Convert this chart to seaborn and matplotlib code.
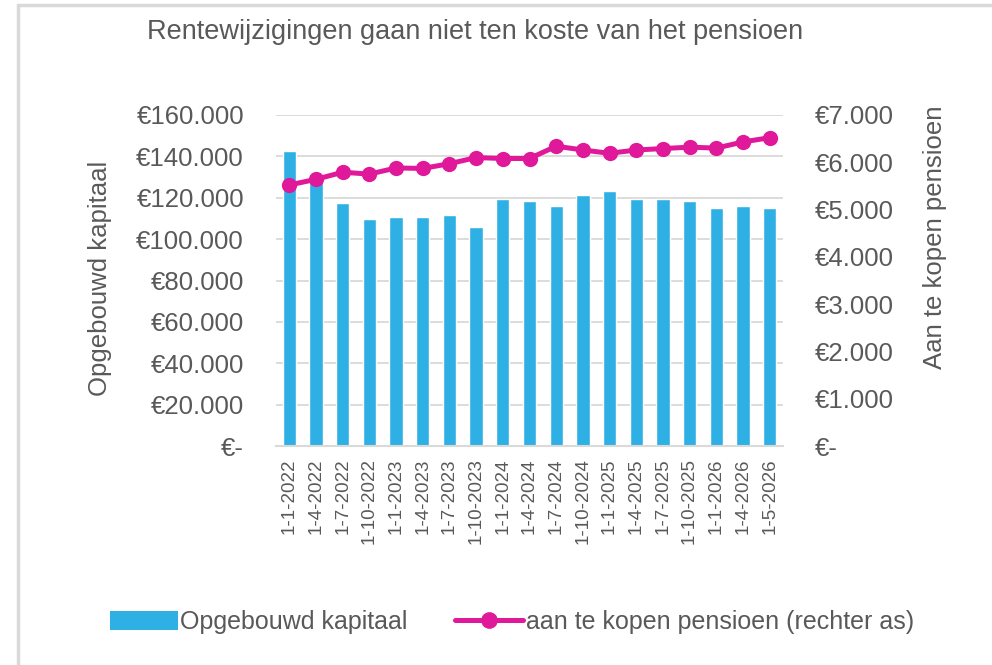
import matplotlib
matplotlib.use("Agg")
import matplotlib.pyplot as plt
import matplotlib.font_manager as fm
from matplotlib.lines import Line2D
from matplotlib.patches import Patch
from matplotlib.ticker import FuncFormatter, FixedLocator
import seaborn as sns
import numpy as np
import pandas as pd

datums = ["1-1-2022", "1-4-2022", "1-7-2022", "1-10-2022", "1-1-2023", "1-4-2023",
          "1-7-2023", "1-10-2023", "1-1-2024", "1-4-2024", "1-7-2024", "1-10-2024",
          "1-1-2025", "1-4-2025", "1-7-2025", "1-10-2025", "1-1-2026", "1-4-2026",
          "1-5-2026"]
kapitaal = [142700, 129000, 117700, 109900, 110700, 110700, 111500, 105800, 119300,
            118400, 116000, 121500, 123100, 119300, 119300, 118400, 115200, 116000,
            115200]
pensioen = [5520, 5640, 5790, 5750, 5880, 5870, 5970, 6100, 6080, 6080, 6340, 6260,
            6190, 6260, 6290, 6320, 6300, 6430, 6520]
left_ticks = [0, 20000, 40000, 60000, 80000, 100000, 120000, 140000, 160000]
right_ticks = [0, 1000, 2000, 3000, 4000, 5000, 6000, 7000]

sns.set_theme(style="white")
names = {f.name for f in fm.fontManager.ttflist}
fam = "Liberation Sans Narrow" if "Liberation Sans Narrow" in names else "Liberation Sans"
plt.rcParams["font.family"] = [fam, "DejaVu Sans"]

TXT = "#595959"
BLUE = "#2FB0E5"
PINK = "#E0199A"
GRID = "#D9D9D9"

df = pd.DataFrame({"datum": datums, "kapitaal": kapitaal, "pensioen": pensioen})

fig = plt.figure(figsize=(9.92, 6.65), dpi=100)
ax = fig.add_axes([276 / 992, 1 - 446 / 665, (783 - 276) / 992, (446 - 115) / 665])

sns.barplot(data=df, x="datum", y="kapitaal", color=BLUE, width=0.5, ax=ax,
            saturation=1, zorder=2)
ax.set_ylim(0, 160000)
ax.set_xlim(-0.5, len(datums) - 0.5)
ax.yaxis.set_major_locator(FixedLocator(left_ticks))


def euro(v, pos):
    if v == 0:
        return "€-"
    return "€" + f"{int(v):,}".replace(",", ".")


ax.yaxis.set_major_formatter(FuncFormatter(euro))
ax.grid(axis="y", color=GRID, linewidth=1.3, zorder=0)
ax.set_axisbelow(True)
for s in ["top", "right", "left"]:
    ax.spines[s].set_visible(False)
ax.spines["bottom"].set_color(GRID)
ax.spines["bottom"].set_linewidth(1.5)
ax.tick_params(axis="y", labelsize=18.5, colors=TXT, length=0, pad=23)
ax.tick_params(axis="x", labelsize=13.5, colors=TXT, length=0, pad=9, rotation=90)
ax.set_xlabel("")
ax.set_ylabel("Opgebouwd kapitaal", fontsize=18.5, color=TXT)
ax.yaxis.set_label_coords((112 - 276) / (783 - 276), (446 - 278) / (446 - 115))

ax2 = ax.twinx()
sns.lineplot(x=np.arange(len(datums)), y=pensioen, ax=ax2, color=PINK, linewidth=3.6,
             marker="o", markersize=11, markeredgewidth=0, zorder=3)
ax2.set_ylim(0, 7000)
ax2.yaxis.set_major_locator(FixedLocator(right_ticks))
ax2.yaxis.set_major_formatter(FuncFormatter(euro))
for s in ["top", "right", "left", "bottom"]:
    ax2.spines[s].set_visible(False)
ax2.tick_params(axis="y", labelsize=18.5, colors=TXT, length=0, pad=23)
ax2.set_ylabel("Aan te kopen pensioen", fontsize=18.5, color=TXT, rotation=90)
ax2.yaxis.set_label_coords((935 - 276) / (783 - 276), (446 - 237) / (446 - 115))
ax2.yaxis.label.set_verticalalignment("center")
ax2.yaxis.label.set_horizontalalignment("center")

fig.text(475 / 992, 1 - 32 / 665, "Rentewijzigingen gaan niet ten koste van het pensioen",
         ha="center", va="center", fontsize=19.5, color=TXT)

handles = [Patch(facecolor=BLUE, edgecolor="none"),
           Line2D([], [], color=PINK, linewidth=3.6, marker="o", markersize=11)]
fig.legend(handles, ["Opgebouwd kapitaal", "aan te kopen pensioen (rechter as)"],
           loc="center", bbox_to_anchor=(512 / 992, 1 - 622 / 665), ncol=2,
           frameon=False, fontsize=18, labelcolor=TXT, handlelength=2.7,
           handletextpad=0.12, columnspacing=1.9, handleheight=0.8)

fig.add_artist(Line2D([17.5 / 992, 17.5 / 992], [0, 1 - 4.5 / 665], color=GRID,
                      linewidth=2.5, transform=fig.transFigure))
fig.add_artist(Line2D([17.5 / 992, 1], [1 - 4.5 / 665, 1 - 4.5 / 665], color=GRID,
                      linewidth=2.5, transform=fig.transFigure))

fig.savefig("out.png", dpi=100)
